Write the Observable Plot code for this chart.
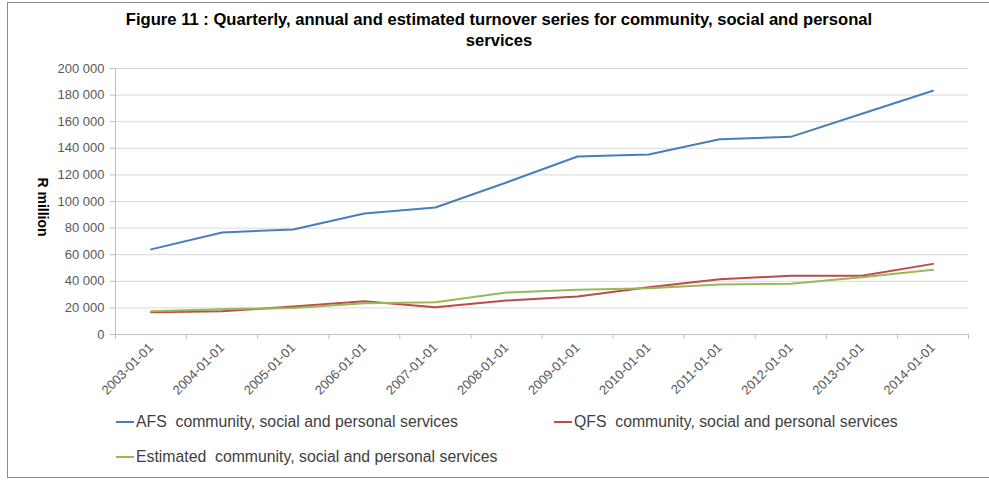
<!DOCTYPE html>
<html><head><meta charset="utf-8">
<script src="https://cdn.jsdelivr.net/npm/d3@7"></script>
<script src="https://cdn.jsdelivr.net/npm/@observablehq/plot@0.6"></script>
<style>
body{margin:0;background:#fff;font-family:"Liberation Sans",Arial,sans-serif;}
#wrap{position:relative;width:989px;height:483px;overflow:hidden;background:#fff;}
#border{position:absolute;left:7px;top:2px;width:1100px;height:476px;border:1.5px solid #8c8c8c;box-sizing:border-box;}
#title{position:absolute;left:0;top:9px;width:998px;text-align:center;font-weight:bold;font-size:16.6px;line-height:21px;color:#000;}
#ylab{position:absolute;left:43px;top:207px;transform:translate(-50%,-50%) rotate(90deg);font-weight:bold;font-size:14px;color:#000;white-space:nowrap;}
#chart{position:absolute;left:0;top:0;}
.leg{position:absolute;font-size:15.8px;color:#404040;white-space:nowrap;display:flex;align-items:center;}
.leg span.sw{display:inline-block;width:18px;height:2px;margin-right:2px;}
</style></head>
<body>
<div id="wrap">
  <div id="border"></div>
  <div id="chart"></div>
  <div id="title">Figure 11 : Quarterly, annual and estimated turnover series for community, social and personal<br>services</div>
  <div id="ylab">R million</div>
  <div id="legend"></div>
</div>
<script>
const dates = ["2003-01-01","2004-01-01","2005-01-01","2006-01-01","2007-01-01","2008-01-01","2009-01-01","2010-01-01","2011-01-01","2012-01-01","2013-01-01","2014-01-01"];
const seriesNames = ["AFS  community, social and personal services","QFS  community, social and personal services","Estimated  community, social and personal services"];
const afs = [64000, 76700, 79000, 91000, 95500, 114300, 133800, 135300, 146800, 148600, 166000, 183300];
const qfs = [16800, 17500, 21000, 25000, 20500, 25500, 28600, 35600, 41600, 44100, 44100, 53100];
const est = [17500, 19000, 20000, 23500, 24300, 31600, 33600, 34800, 37600, 38100, 43100, 48600];
const yTicks = [0, 20000, 40000, 60000, 80000, 100000, 120000, 140000, 160000, 180000, 200000];
const colors = ["#4a7ebb", "#be4b48", "#98b954"];

const values = [afs, qfs, est];
const rows = seriesNames.flatMap((s, k) => values[k].map((v, i) => ({i, v, s})));
const fmt = d => d3.format(",")(d).replace(/,/g, " ");
const bounds = d3.range(-0.5, dates.length, 1);

const plot = Plot.plot({
  width: 989, height: 483,
  marginLeft: 115, marginRight: 21, marginTop: 68, marginBottom: 149,
  style: {background: "transparent", fontFamily: "Liberation Sans, Arial, sans-serif", fontSize: "12px", color: "#595959"},
  x: {type: "linear", domain: [-0.5, dates.length - 0.5]},
  y: {domain: [0, 200000]},
  color: {domain: seriesNames, range: colors},
  marks: [
    Plot.gridY(yTicks, {stroke: "#d9d9d9", strokeOpacity: 1}),
    Plot.ruleX([-0.5], {stroke: "#bfbfbf"}),
    Plot.ruleY([0], {stroke: "#bfbfbf"}),
    Plot.axisY(yTicks, {tickFormat: fmt, tickSize: 5, tickPadding: 6, stroke: "#bfbfbf", fill: "#595959", label: null, fontSize: 13}),
    Plot.axisX(bounds, {tickSize: 5, tickFormat: () => "", stroke: "#bfbfbf", label: null}),
    Plot.axisX(d3.range(dates.length), {tickSize: 0, tickPadding: 11, tickRotate: -45, tickFormat: i => dates[i], fill: "#595959", label: null, fontSize: 13}),
    Plot.line(rows, {x: "i", y: "v", z: "s", stroke: "s", strokeWidth: 2})
  ]
});
document.getElementById("chart").appendChild(plot);

const legend = document.getElementById("legend");
const pos = [[116, 421], [554, 421], [116, 456]];
seriesNames.forEach((s, k) => {
  const d = document.createElement("div");
  d.className = "leg";
  d.style.left = pos[k][0] + "px";
  d.style.top = (pos[k][1] - 8) + "px";
  d.innerHTML = `<span class="sw" style="background:${colors[k]}"></span><span>${s.replace(/  /g, "&nbsp; ")}</span>`;
  legend.appendChild(d);
});
</script>
</body></html>
